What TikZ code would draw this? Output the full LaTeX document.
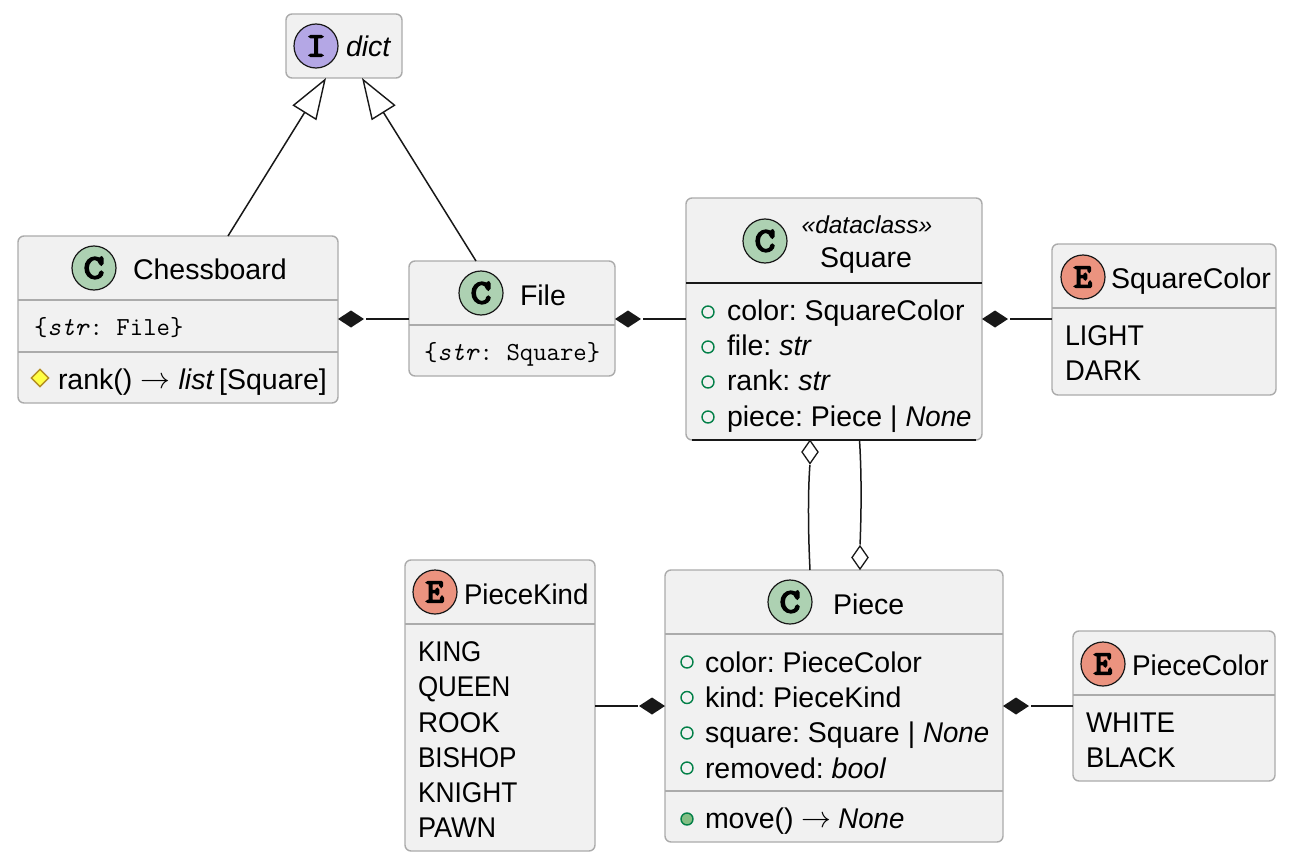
\documentclass[tikz,border=0pt]{standalone}
\usepackage{fontspec}
\setmainfont{Liberation Sans}
\newfontfamily\lmt{Latin Modern Mono}
\newfontfamily\spot[FakeBold=7]{Latin Modern Mono Light}
\usetikzlibrary{shapes.geometric}
\definecolor{boxfill}{HTML}{F1F1F1}
\definecolor{boxline}{HTML}{ABABAB}
\definecolor{ink}{HTML}{181818}
\definecolor{cgreen}{HTML}{ADD1B2}
\definecolor{eorange}{HTML}{EB937F}
\definecolor{ipurple}{HTML}{B4A7E5}
\definecolor{vis}{HTML}{038048}
\definecolor{visfill}{HTML}{84BE84}
\definecolor{prot}{HTML}{B38D22}
\definecolor{protfill}{HTML}{FFFF44}
\usetikzlibrary{arrows.meta}
\tikzset{
  x=1pt,y=-1pt,
  box/.style={draw=boxline,fill=boxfill,line width=1.4pt,rounded corners=6pt,inner sep=0pt,outer sep=0pt},
  sep/.style={draw=boxline,line width=1.4pt},
  lbl/.style={anchor=base west,inner sep=0pt,outer sep=0pt,text=black,font=\fontsize{28.5}{34}\selectfont},
  ttl/.style={lbl,anchor=base},
  mono/.style={lbl,font=\fontsize{26}{30}\selectfont\lmt},
  stereo/.style={lbl,anchor=base,font=\fontsize{24.5}{28}\selectfont\itshape},
  spotc/.style={circle,draw=ink,line width=1.2pt,minimum size=44pt,inner sep=0pt,outer sep=0pt,text=black,font=\fontsize{33}{33}\selectfont\spot},
  pub/.style={circle,draw=vis,line width=1.4pt,fill=none,minimum size=12pt,inner sep=0pt},
  pubm/.style={pub,fill=visfill},
  protm/.style={diamond,draw=prot,line width=1.4pt,fill=protfill,minimum size=18pt,inner sep=0pt,shape aspect=1},
  conn/.style={draw=ink,line width=1.5pt},
  thinblk/.style={draw=ink,line width=1.1pt},
  compd/.style={diamond,draw=none,fill=ink,shape aspect=1.5,minimum width=26pt,minimum height=17pt,inner sep=0pt,outer sep=0pt},
  aggd/.style={diamond,draw=ink,line width=1.3pt,fill=white,shape aspect=0.7,minimum width=16pt,minimum height=23pt,inner sep=0pt,outer sep=0pt},
  link/.style={conn,shorten >=1.5pt},
  inh/.style={conn,-{Triangle[open,fill=white,length=41pt,width=28pt,line width=1.4pt]}},
}
\newcommand\bx[5]{\pgfmathsetmacro\bw{#4-#2}\pgfmathsetmacro\bh{#5-#3}\pgfmathsetmacro\bcx{(#2+#4)/2}\pgfmathsetmacro\bcy{(#3+#5)/2}\node[box,minimum width=\bw pt,minimum height=\bh pt] (#1) at (\bcx,\bcy) {};}
\newcommand\lab[4]{\node[lbl] (#1) at (#2,#3) {#4};}
\newcommand\hs[2]{\scalebox{#1}[1]{#2}}
\newcommand\arr{\raisebox{0.5pt}{\scalebox{1.2}{$\rightarrow$}}}
\begin{document}
\frenchspacing
\begin{tikzpicture}
\useasboundingbox (0,0) rectangle (1290,864);
% boxes
\bx{dict}{286}{14}{402}{78}
\bx{chess}{18}{236}{338}{403}
\bx{file}{409}{261}{615}{376}
\bx{square}{686}{198}{982}{440}
\bx{sqcolor}{1052}{244}{1276}{395}
\bx{piece}{665}{570}{1003}{842}
\bx{kind}{405}{560}{595}{851}
\bx{pcolor}{1073}{631}{1275}{781}
% separators
\draw[sep] (chess.west |- 0,300) -- (chess.east |- 0,300);
\draw[sep] (chess.west |- 0,352) -- (chess.east |- 0,352);
\draw[sep] (file.west |- 0,325) -- (file.east |- 0,325);
\draw[thinblk] (square.west |- 0,283) -- (square.east |- 0,283);
\draw[thinblk] (692,440) -- (976,440);
\draw[sep] (sqcolor.west |- 0,308) -- (sqcolor.east |- 0,308);
\draw[sep] (piece.west |- 0,634) -- (piece.east |- 0,634);
\draw[sep] (piece.west |- 0,791) -- (piece.east |- 0,791);
\draw[sep] (kind.west |- 0,624) -- (kind.east |- 0,624);
\draw[sep] (pcolor.west |- 0,695) -- (pcolor.east |- 0,695);
% spots
\node[spotc,fill=ipurple] (sdict) at (316,46) {I};
\node[spotc,fill=cgreen] (schess) at (94,268) {\hs{1.15}{C}};
\node[spotc,fill=cgreen] (sfile) at (481,293) {\hs{1.15}{C}};
\node[spotc,fill=cgreen] (ssquare) at (765,241) {\hs{1.15}{C}};
\node[spotc,fill=eorange] (ssqc) at (1083,277) {E};
\node[spotc,fill=cgreen] (spiece) at (790,602) {\hs{1.15}{C}};
\node[spotc,fill=eorange] (skind) at (435,592) {E};
\node[spotc,fill=eorange] (spc) at (1103,664) {E};
% titles
\lab{tdict}{346}{57}{\itshape dict}
\lab{tchess}{133}{279}{Chessboard}
\lab{tfile}{520}{305}{File}
\node[stereo] (tstereo) at (867,233) {«dataclass»};
\node[ttl] (tsquare) at (866,267) {Square};
\lab{tsqc}{1111}{288}{SquareColor}
\lab{tpiece}{833}{614}{Piece}
\lab{tkind}{464}{604}{\hs{0.97}{PieceKind}}
\lab{tpc}{1132}{675}{\hs{0.98}{PieceColor}}
% Chessboard
\node[mono] (m1) at (34,335) {\{\textit{str}: File\}};
\node[protm] (m2) at (40,378) {};
\lab{m3}{58}{389}{rank() \arr\ \hspace{0.5pt}\textit{list}\,[Square]}
% File
\node[mono] (f1) at (424,360) {\{\textit{str}: Square\}};
% Square
\foreach \n/\y in {a/312,b/347,c/382,d/417} \node[pub] (sq\n) at (708,\y) {};
\lab{q1}{727}{320}{color: SquareColor}
\lab{q2}{727}{355}{file: \textit{str}}
\lab{q3}{727}{390}{rank: \textit{str}}
\lab{q4}{727}{426}{piece: Piece | \textit{\hs{0.97}{None}}}
% SquareColor
\lab{sc1}{1065}{345}{\hs{0.94}{LIGHT}}
\lab{sc2}{1065}{380}{\hs{0.96}{DARK}}
% Piece
\foreach \n/\y in {a/662,b/697.5,c/733,d/768} \node[pub] (pi\n) at (687,\y) {};
\node[pubm] (pie) at (687,819) {};
\lab{p1}{705}{672}{color: PieceColor}
\lab{p2}{705}{707}{kind: PieceKind}
\lab{p3}{705}{742}{square: Square | \textit{\hs{0.97}{None}}}
\lab{p4}{705}{778}{removed: \textit{bool}}
\lab{p5}{705}{828}{move() \arr\ \hspace{-1pt}\textit{\hs{0.97}{None}}}
% PieceKind
\lab{k1}{418}{661}{\hs{0.91}{KING}}
\lab{k2}{418}{696}{\hs{0.91}{QUEEN}}
\lab{k3}{418}{732}{\hs{0.976}{ROOK}}
\lab{k4}{418}{767}{\hs{0.916}{BISHOP}}
\lab{k5}{418}{802}{\hs{0.925}{KNIGHT}}
\lab{k6}{418}{837}{\hs{0.95}{PAWN}}
% PieceColor
\lab{c1}{1086}{732}{\hs{0.97}{WHITE}}
\lab{c2}{1086}{767}{\hs{0.96}{BLACK}}
% end diamonds
\node[compd] (dchess) at (351,319) {};
\node[compd] (dfile) at (628,319) {};
\node[compd] (dsq) at (995,319) {};
\node[compd] (dpk) at (652,706) {};
\node[compd] (dpc) at (1016,706) {};
\node[aggd] (dag1) at (810,452) {};
\node[aggd] (dag2) at (860,557.5) {};
% connectors
\draw[inh] (chess.north -| 228,0) -- (dict.south -| 326,0);
\draw[inh] (file.north -| 476,0) -- (dict.south -| 362,0);
\draw[link] (file.west |- dchess) -- (dchess.east);
\draw[link] (square.west |- dfile) -- (dfile.east);
\draw[link] (sqcolor.west |- dsq) -- (dsq.east);
\draw[link] (kind.east |- dpk) -- (dpk.west);
\draw[link] (pcolor.west |- dpc) -- (dpc.east);
\draw[link] (piece.north -| dag1) .. controls (808,530) and (808,490) .. (dag1.south);
\draw[link] (square.south -| 859.5,0) .. controls (862,480) and (861,520) .. (dag2.north);
\end{tikzpicture}
\end{document}
